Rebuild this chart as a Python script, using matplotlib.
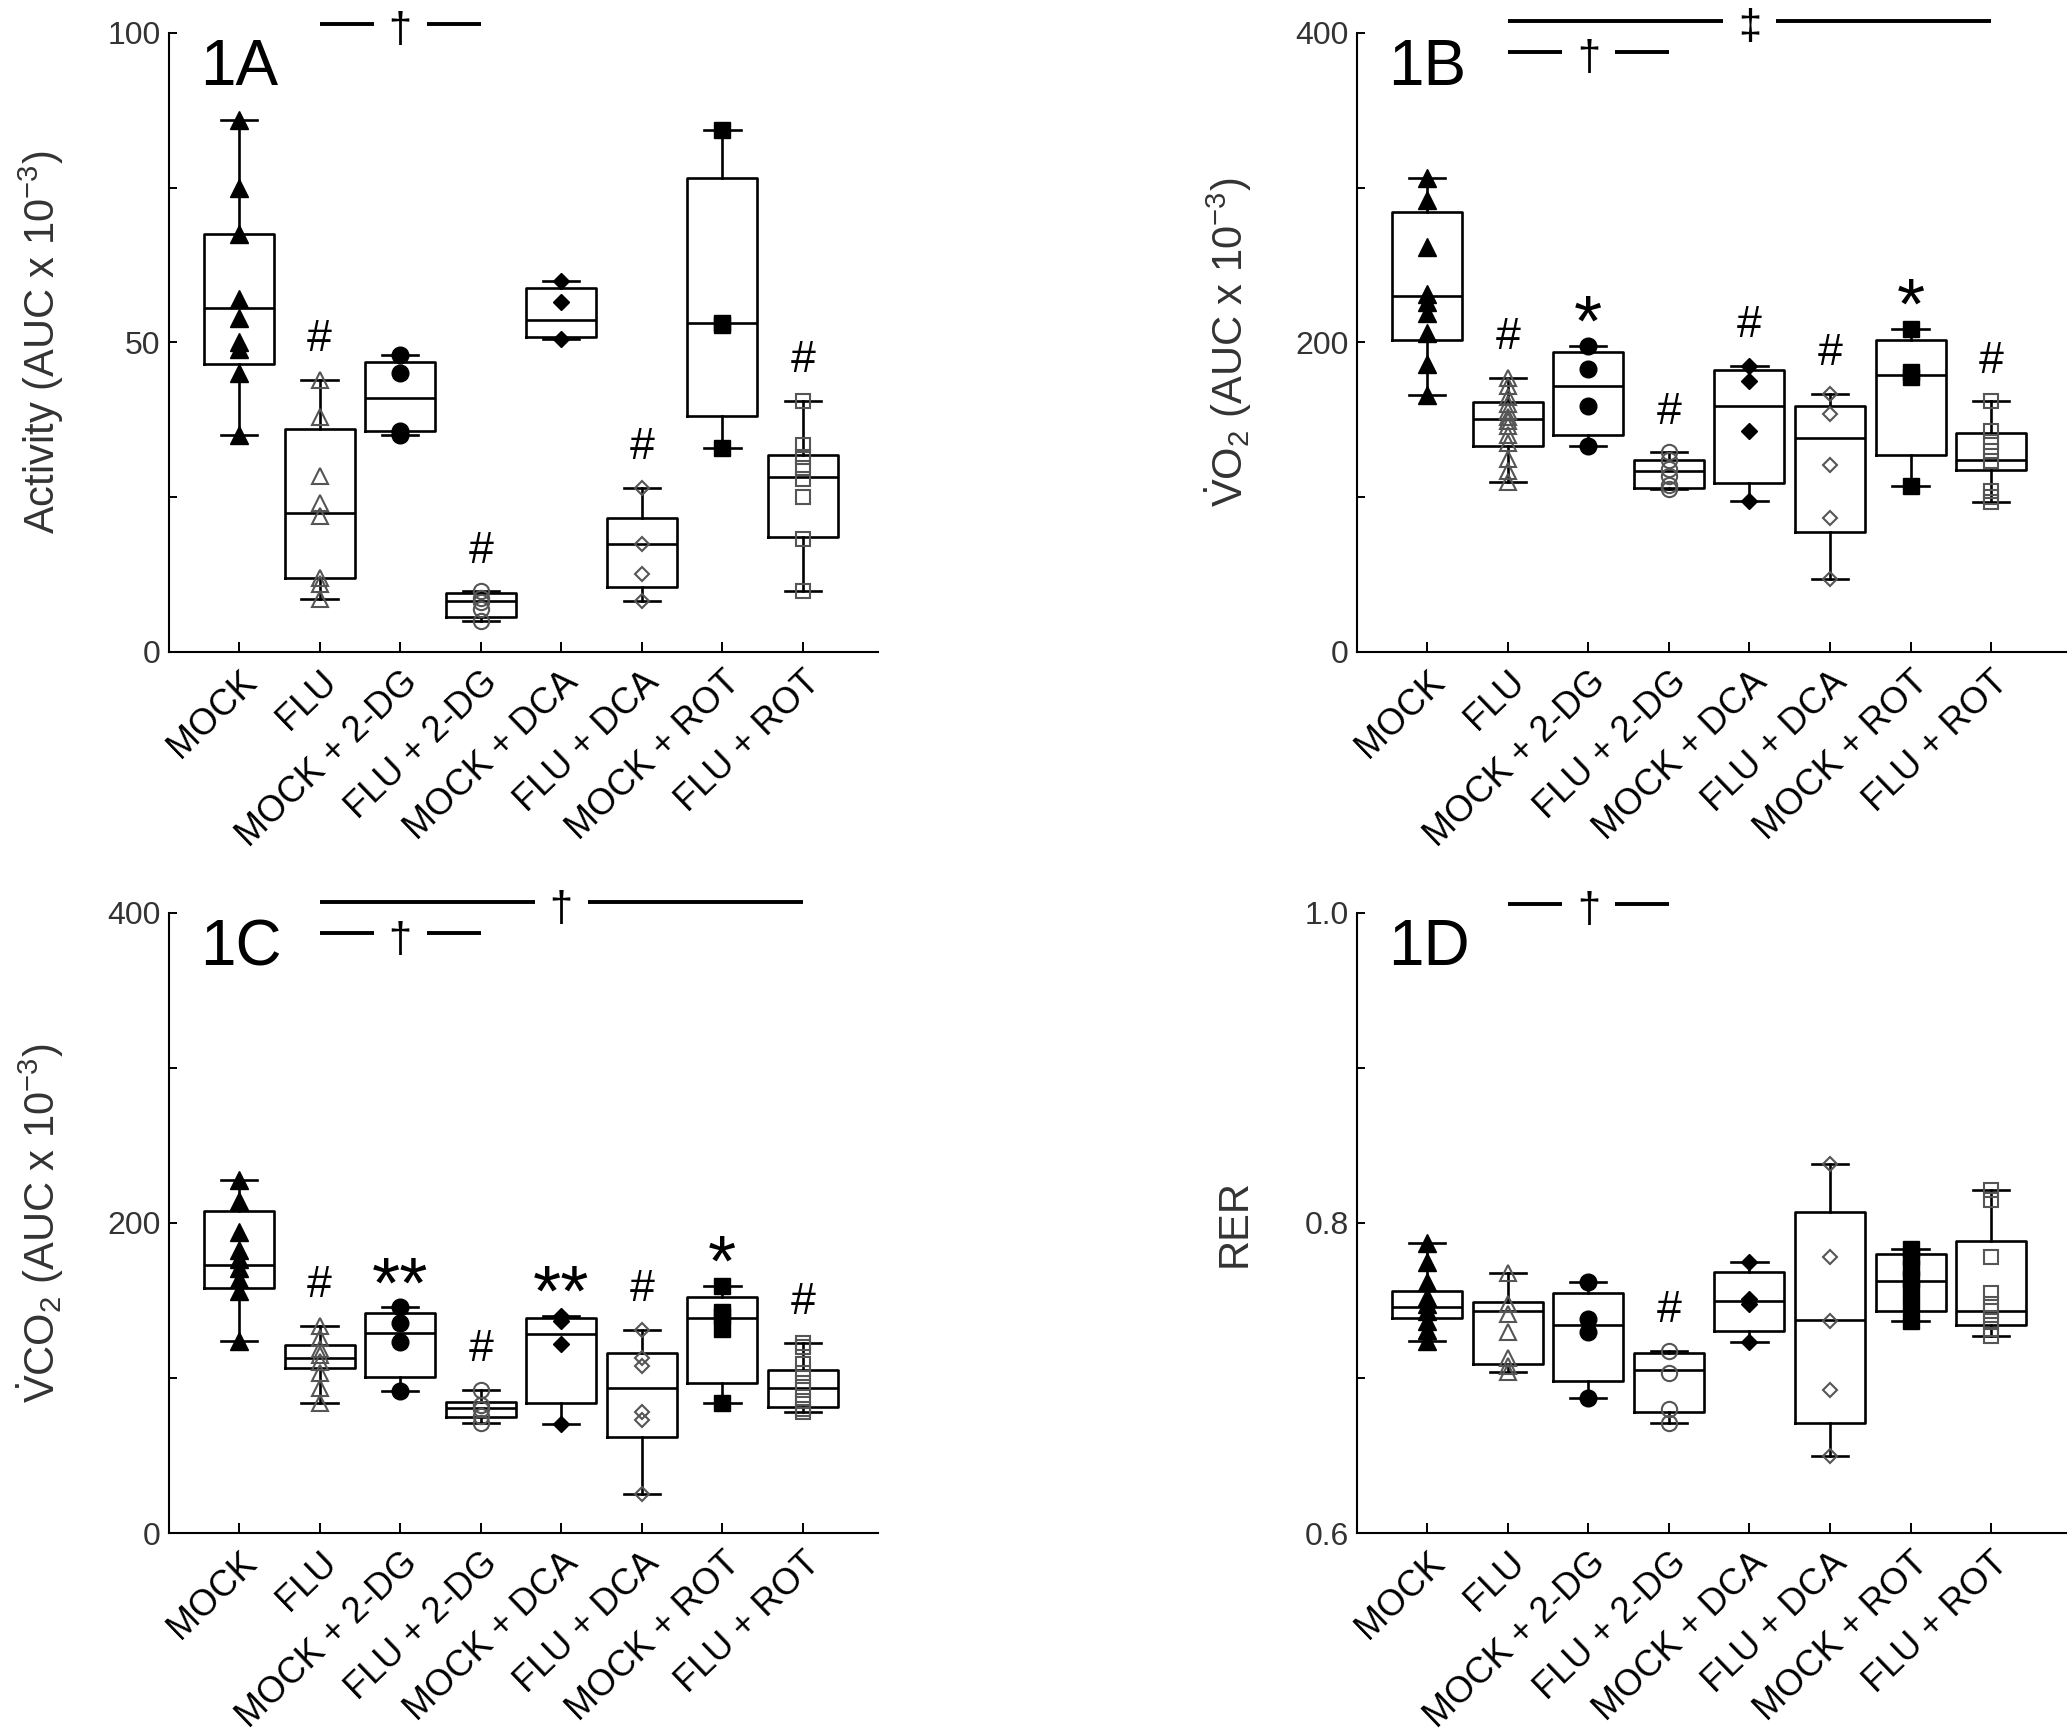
import numpy as np
import matplotlib
matplotlib.use('Agg')
import matplotlib.pyplot as plt

plt.rcParams['font.family'] = ['Liberation Sans', 'DejaVu Sans']
plt.rcParams['mathtext.fontset'] = 'custom'
plt.rcParams['mathtext.rm'] = 'Liberation Sans'
plt.rcParams['mathtext.it'] = 'Liberation Sans:italic'
plt.rcParams['mathtext.bf'] = 'Liberation Sans:bold'

groups = ['MOCK', 'FLU', 'MOCK + 2-DG', 'FLU + 2-DG',
          'MOCK + DCA', 'FLU + DCA', 'MOCK + ROT', 'FLU + ROT']
markers = ['^', '^', 'o', 'o', 'D', 'D', 's', 's']
filled = [True, False, True, False, True, False, True, False]

# 1A activity
act_pts = [[86, 75, 67.5, 57, 54, 50, 49, 45, 35],
           [44, 38, 28.5, 24, 22, 12, 11, 8.5],
           [48, 45, 35.7, 35],
           [9.8, 8.8, 8.0, 7.0, 5.0],
           [60, 56.6, 50.5],
           [26.5, 17.5, 12.6, 8.2],
           [84.4, 53.2, 52.8, 33],
           [40.6, 33.5, 31.5, 29.8, 28, 25, 18.2, 9.8]]
act_q1 = [46.6, 11.9, 35.7, 5.7, 50.9, 10.5, 38.2, 18.6]
act_med = [55.5, 22.5, 41, 8.3, 53.7, 17.5, 53.2, 28.2]
act_q3 = [67.6, 36.1, 46.9, 9.5, 58.8, 21.7, 76.5, 31.9]
act_marks = ['', '#', '', '#', '', '#', '', '#']

# 1B VO2
vo2_pts = [[306, 292, 262, 231, 226, 219, 206, 186, 166],
           [177, 172, 165, 160, 156, 152, 149, 146, 140, 135, 125, 117, 110],
           [198, 182.6, 159, 133],
           [129, 124, 118, 114, 108, 105],
           [185, 175, 142.6, 97.5],
           [167, 154, 120.6, 86.6, 47.4],
           [209, 181, 177.7, 107.5],
           [162, 142.6, 135.7, 130, 123.4, 104, 100, 97]]
vo2_q1 = [201.4, 133.3, 140, 105.8, 109, 77.4, 127, 117.3]
vo2_med = [230, 150.8, 171.6, 116.7, 158.8, 138, 179, 124]
vo2_q3 = [284, 161.6, 193.6, 124, 182.5, 158.8, 201.4, 141.2]
vo2_marks = ['', '#', '*', '#', '#', '#', '*', '#']

# 1C VCO2
vco2_pts = [[227.7, 214, 194, 182.5, 177, 171, 164, 156, 123.6],
            [133.7, 126, 119, 114.7, 110.5, 103.5, 93.7, 83.9],
            [145.5, 135.7, 123.1, 91.5],
            [92.3, 82.5, 79.7, 75.5, 71.3],
            [140, 137, 121.7, 70.5],
            [131, 113, 107.7, 78.3, 72.7, 25.2],
            [159.4, 142.6, 139.9, 131.5, 83.9],
            [122.5, 120.3, 109, 103.5, 96.5, 92.3, 85.3, 79.7, 77.8]]
vco2_q1 = [158, 106.3, 100.7, 74.7, 84, 62, 96.5, 81]
vco2_med = [172.8, 113, 129.3, 80.6, 128.7, 93.7, 138.5, 93.7]
vco2_q3 = [207.7, 121, 141.8, 84.5, 138.5, 116, 152.4, 104.9]
vco2_marks = ['', '#', '**', '#', '**', '#', '*', '#']

# 1D RER
rer_pts = [[0.787, 0.775, 0.762, 0.752, 0.748, 0.743, 0.737, 0.731, 0.724],
           [0.768, 0.748, 0.741, 0.730, 0.713, 0.708, 0.704],
           [0.762, 0.738, 0.730, 0.687],
           [0.7175, 0.7035, 0.680, 0.671],
           [0.775, 0.751, 0.748, 0.723],
           [0.838, 0.778, 0.737, 0.692, 0.650],
           [0.783, 0.778, 0.771, 0.764, 0.758, 0.748, 0.737],
           [0.8215, 0.815, 0.778, 0.755, 0.748, 0.743, 0.737, 0.7315, 0.727]]
rer_q1 = [0.7385, 0.7091, 0.6979, 0.6778, 0.7301, 0.6713, 0.7432, 0.7339]
rer_med = [0.7455, 0.7432, 0.7343, 0.7049, 0.7497, 0.7371, 0.7628, 0.7432]
rer_q3 = [0.7561, 0.7491, 0.7547, 0.7161, 0.7687, 0.8070, 0.7799, 0.7882]
rer_marks = ['', '', '', '#', '', '', '', '']

# comparison bars: (from group, to group, level, symbol)
act_bars = [(2, 4, 101.5, '†')]
vo2_bars = [(2, 8, 408, '‡'), (2, 4, 388, '†')]
vco2_bars = [(2, 8, 407, '†'), (2, 4, 387, '†')]
rer_bars = [(2, 4, 1.006, '†')]


def draw_panel(ax, pts, q1, med, q3, ylim, yticks, yminor, ylabel, tag, marks, bars):
    stats = []
    for i in range(len(groups)):
        stats.append(dict(med=med[i], q1=q1[i], q3=q3[i],
                          whislo=min(pts[i]), whishi=max(pts[i]), fliers=[]))
    lp = dict(color='black', lw=1.9)
    ax.bxp(stats, positions=range(1, 9), widths=0.87, capwidths=0.45,
           showfliers=False, boxprops=lp, medianprops=lp,
           whiskerprops=lp, capprops=lp)

    for i in range(len(groups)):
        x = np.full(len(pts[i]), i + 1)
        ms = {'^': 13, 'o': 12, 'D': 8.5, 's': 11}[markers[i]]
        if filled[i]:
            ax.plot(x, pts[i], ls='none', marker=markers[i], ms=ms,
                    mfc='black', mec='black', zorder=5)
        else:
            ax.plot(x, pts[i], ls='none', marker=markers[i], ms=ms - 1,
                    mfc='none', mec='#555555', mew=1.5, zorder=5)

    rng = ylim[1] - ylim[0]
    for i, m in enumerate(marks):
        if m == '#':
            ax.text(i + 1, max(pts[i]) + 0.065 * rng, m, ha='center',
                    va='center', fontsize=32)
        elif m:
            ax.text(i + 1, max(pts[i]) + 0.03 * rng, m, ha='center',
                    va='center', fontsize=52)

    for x0, x1, y, sym in bars:
        xm = (x0 + x1) / 2
        ax.plot([x0, xm - 0.33], [y, y], color='black', lw=2.8,
                clip_on=False, solid_capstyle='butt')
        ax.plot([xm + 0.33, x1], [y, y], color='black', lw=2.8,
                clip_on=False, solid_capstyle='butt')
        ax.text(xm, y - 0.012 * rng, sym, ha='center', va='center',
                fontsize=30, clip_on=False)

    ax.set_xlim(0.13, 8.93)
    ax.set_ylim(*ylim)
    ax.spines['top'].set_visible(False)
    ax.spines['right'].set_visible(False)
    ax.spines['left'].set_linewidth(1.5)
    ax.spines['bottom'].set_linewidth(1.5)

    ax.set_yticks(yticks)
    ax.set_yticks(yminor, minor=True)
    ax.tick_params(axis='y', which='both', direction='in', length=6, width=1.4,
                   labelsize=23, pad=6, labelcolor='#333333')
    ax.set_xticks(range(1, 9))
    ax.set_xticklabels(groups, rotation=44, ha='right', va='top',
                       rotation_mode='anchor', fontsize=26)
    ax.tick_params(axis='x', direction='in', length=7, width=1.4, pad=9)

    ax.set_ylabel(ylabel, fontsize=30, color='#333333')
    ax.yaxis.set_label_coords(-0.145, 0.5)
    ax.text(0.044, 0.916, tag, transform=ax.transAxes, fontsize=46,
            ha='left', va='baseline')


fig = plt.figure(figsize=(20.7, 17.34), dpi=100)
axA = fig.add_axes([0.0816, 0.624, 0.3425, 0.357])
axB = fig.add_axes([0.6556, 0.624, 0.3425, 0.357])
axC = fig.add_axes([0.0816, 0.1159, 0.3425, 0.3576])
axD = fig.add_axes([0.6556, 0.1159, 0.3425, 0.3576])

draw_panel(axA, act_pts, act_q1, act_med, act_q3, (0, 100), [0, 50, 100], [25, 75],
           'Activity (AUC x 10$^{-3}$)', '1A', act_marks, act_bars)
draw_panel(axB, vo2_pts, vo2_q1, vo2_med, vo2_q3, (0, 400), [0, 200, 400], [100, 300],
           r'$\dot{\mathrm{V}}\mathrm{O}_2$ (AUC x 10$^{-3}$)', '1B', vo2_marks, vo2_bars)
draw_panel(axC, vco2_pts, vco2_q1, vco2_med, vco2_q3, (0, 400), [0, 200, 400], [100, 300],
           r'$\dot{\mathrm{V}}\mathrm{CO}_2$ (AUC x 10$^{-3}$)', '1C', vco2_marks, vco2_bars)
draw_panel(axD, rer_pts, rer_q1, rer_med, rer_q3, (0.6, 1.0), [0.6, 0.8, 1.0], [0.7, 0.9],
           'RER', '1D', rer_marks, rer_bars)
axD.set_yticklabels(['0.6', '0.8', '1.0'])

fig.savefig('out.png', dpi=100)
